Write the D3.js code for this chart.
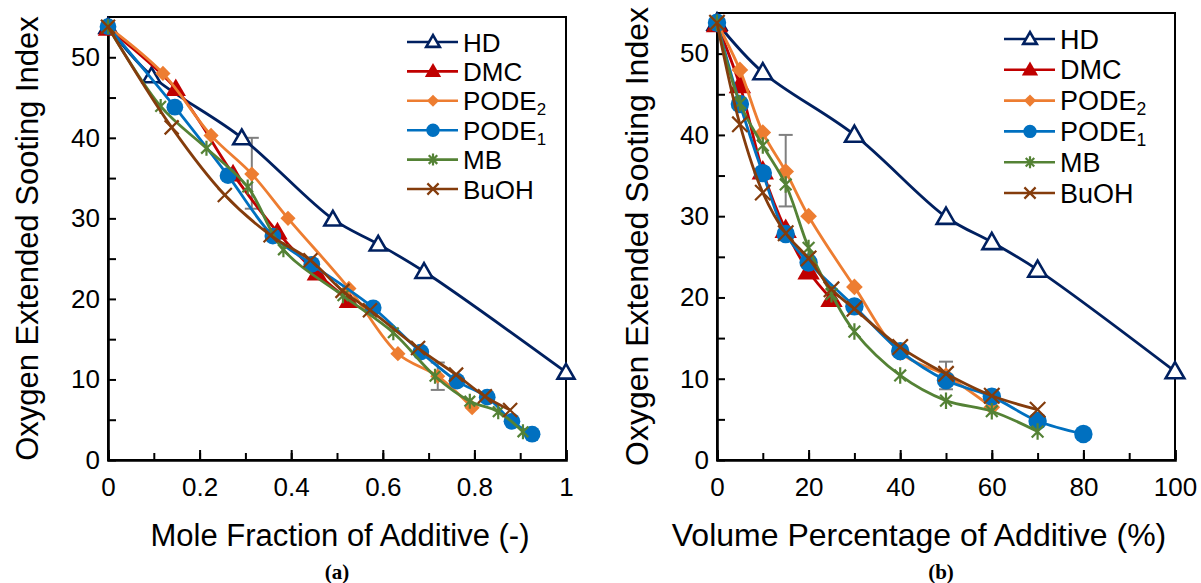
<!DOCTYPE html>
<html><head><meta charset="utf-8">
<script src="https://cdn.jsdelivr.net/npm/d3@7"></script>
<style>
html,body{margin:0;padding:0;background:#fff;}
text{font-family:"Liberation Sans",Arial,sans-serif;fill:#000;}
</style></head>
<body>
<svg id="chart" width="1201" height="583"></svg>
<script>
// ---- data ----
const seriesNames = ["HD","DMC","PODE2","PODE1","MB","BuOH"];
const seriesColors = ["#002060","#C00000","#ED7D31","#0070C0","#548235","#843C0C"];

const hdMoleX = [0,0.095,0.292,0.491,0.59,0.69,1];
const hdVolX  = [0,10,30,50,60,70,100];
const hdY     = [53.8,47.7,40.0,29.9,26.8,23.4,10.9];

const dmcMoleX = [0,0.148,0.273,0.37,0.456,0.526];
const dmcVolX  = [0,5,10,15,20,25];
const dmcY     = [53.6,46.1,35.5,28.3,23.2,19.8];

const pode2MoleX = [0,0.12,0.225,0.314,0.393,0.526,0.633,0.72,0.795];
const pode2VolX  = [0,5,10,15,20,30,40,50,60];
const pode2Y     = [53.8,48.0,40.3,35.5,30.0,21.3,13.2,10.4,6.5];

const pode1MoleX = [0,0.146,0.262,0.36,0.445,0.579,0.683,0.762,0.828,0.882,0.926];
const pode1VolX  = [0,5,10,15,20,30,40,50,60,70,80];
const pode1Y     = [53.8,43.8,35.3,27.8,24.3,18.9,13.4,9.8,7.8,4.8,3.2];

const mbMoleX = [0,0.115,0.215,0.305,0.383,0.513,0.623,0.714,0.79,0.852,0.906];
const mbVolX  = [0,5,10,15,20,25,30,40,50,60,70];
const mbY     = [53.8,43.9,38.7,33.9,26.1,20.4,15.8,10.4,7.3,6.0,3.5];

const buohMoleX = [0,0.139,0.255,0.355,0.442,0.512,0.572,0.677,0.76,0.823,0.878];
const buohVolX  = [0,5,10,15,20,25,30,40,50,60,70];
const buohY     = [53.8,41.3,32.9,27.9,24.8,21.0,18.6,13.9,10.6,7.9,6.2];

const errMoleX = [0.314,0.72];
const errVolX  = [15,50];
const errY     = [35.6,10.4];
const errHalf  = [4.4,1.7];

const moleTicks = [0,0.2,0.4,0.6,0.8,1];
const moleTickLabels = ["0","0.2","0.4","0.6","0.8","1"];
const volTicks = [0,20,40,60,80,100];
const yTicks = [0,10,20,30,40,50];

// ---- build ----
const moleX = [hdMoleX,dmcMoleX,pode2MoleX,pode1MoleX,mbMoleX,buohMoleX];
const volX  = [hdVolX,dmcVolX,pode2VolX,pode1VolX,mbVolX,buohVolX];
const allY  = [hdY,dmcY,pode2Y,pode1Y,mbY,buohY];

const svg = d3.select("#chart");

function markerPath(i, k){
  switch(i){
    case 0: return d3.symbol(d3.symbolTriangle, 125*k*k)();
    case 1: return d3.symbol(d3.symbolTriangle, 180*k*k)();
    case 2: return d3.symbol(d3.symbolSquare, 115*k*k)();
    case 3: return d3.symbol(d3.symbolCircle, 220*k*k)();
    case 4: { const r=7.5*k, d=r*0.71; return `M0,${-r}V${r}M${-d},${-d}L${d},${d}M${-d},${d}L${d},${-d}`; }
    case 5: { const d=7*k; return `M${-d},${-d}L${d},${d}M${-d},${d}L${d},${-d}`; }
  }
}
function styleMarker(sel, i){
  const c = seriesColors[i];
  if(i===0) sel.attr("fill","#fff").attr("stroke",c).attr("stroke-width",2.6);
  else if(i===4||i===5) sel.attr("fill","none").attr("stroke",c).attr("stroke-width",2.2);
  else sel.attr("fill",c).attr("stroke","none");
}

function panel(cfg){
  const g = svg.append("g");
  const x = d3.scaleLinear().domain(cfg.xDomain).range(cfg.xRange);
  const y = d3.scaleLinear().domain([0,55]).range(cfg.yRange);
  const [x0,x1] = cfg.xRange, [y0,y1] = cfg.yRange;

  g.append("rect").attr("x",x0).attr("y",y1).attr("width",x1-x0).attr("height",y0-y1)
   .attr("fill","none").attr("stroke","#000").attr("stroke-width",2);

  const xa = g.append("g").attr("transform",`translate(0,${y0})`)
    .call(d3.axisBottom(x).tickValues(cfg.xMinor).tickSize(-7).tickFormat(""));
  xa.select(".domain").remove();
  xa.selectAll("line").attr("stroke","#000").attr("stroke-width",2);
  const xb = g.append("g").attr("transform",`translate(0,${y0})`)
    .call(d3.axisBottom(x).tickValues(cfg.xTicks).tickSize(-10).tickPadding(18).tickFormat((d,i)=>cfg.xLabels[i]));
  xb.select(".domain").attr("stroke","#000").attr("stroke-width",2.6);
  xb.selectAll("line").attr("stroke","#000").attr("stroke-width",2);
  xb.selectAll("text").attr("font-size",26).attr("font-family","Liberation Sans, Arial, sans-serif").attr("fill","#000");

  const ya = g.append("g").attr("transform",`translate(${x0},0)`)
    .call(d3.axisLeft(y).tickValues(d3.range(0,55,5)).tickSize(-8).tickFormat(""));
  ya.select(".domain").remove();
  ya.selectAll("line").attr("stroke","#000").attr("stroke-width",2);
  const yb = g.append("g").attr("transform",`translate(${x0},0)`)
    .call(d3.axisLeft(y).tickValues(yTicks).tickSize(0).tickPadding(8).tickFormat(d3.format("d")));
  yb.select(".domain").attr("stroke","#000").attr("stroke-width",2.6);
  yb.selectAll("text").attr("font-size",26).attr("font-family","Liberation Sans, Arial, sans-serif").attr("fill","#000");

  g.append("text").attr("x",cfg.xTitleX).attr("y",546).attr("text-anchor","middle")
    .attr("font-size",cfg.titleFont).text(cfg.xTitle);
  g.append("text").attr("transform",`translate(${cfg.yTitleX},${(y0+y1)/2}) rotate(-90)`)
    .attr("text-anchor","middle").attr("font-size",cfg.titleFont).text("Oxygen Extended Sooting Index");
  g.append("text").attr("x",cfg.capX).attr("y",579).attr("text-anchor","middle")
    .attr("font-size",21).attr("font-weight","bold")
    .style("font-family","'Liberation Serif','Times New Roman',serif").text(cfg.caption);

  const eg = g.append("g").attr("stroke","#7F7F7F").attr("stroke-width",2).attr("fill","none");
  cfg.errX.forEach((ex,i)=>{
    const px = x(ex), ya_ = y(errY[i]+errHalf[i]), yb_ = y(errY[i]-errHalf[i]);
    eg.append("line").attr("x1",px).attr("x2",px).attr("y1",ya_).attr("y2",yb_);
    eg.append("line").attr("x1",px-7).attr("x2",px+7).attr("y1",ya_).attr("y2",ya_);
    eg.append("line").attr("x1",px-7).attr("x2",px+7).attr("y1",yb_).attr("y2",yb_);
  });

  const line = d3.line().x(d=>x(d[0])).y(d=>y(d[1])).curve(d3.curveCatmullRom.alpha(0.5));
  seriesNames.forEach((name,i)=>{
    const pts = cfg.xs[i].map((xv,j)=>[xv, allY[i][j]]);
    const sg = g.append("g");
    sg.append("path").attr("d",line(pts)).attr("fill","none")
      .attr("stroke",seriesColors[i]).attr("stroke-width",2.8);
    pts.forEach(p=>{
      const m = sg.append("path").attr("d",markerPath(i,cfg.mk))
        .attr("transform",`translate(${x(p[0])},${y(p[1])})${i===2?" rotate(45)":""}${i<2?" translate(0,1.5)":""}`);
      styleMarker(m,i);
    });
  });

  const lg = g.append("g");
  seriesNames.forEach((name,i)=>{
    const cy = cfg.legY + i*cfg.legStep;
    const lx0 = cfg.legX, lx1 = cfg.legX+51, mx = cfg.legX+26;
    lg.append("line").attr("x1",lx0).attr("x2",lx1).attr("y1",cy).attr("y2",cy)
      .attr("stroke",seriesColors[i]).attr("stroke-width",2.6);
    const m = lg.append("path").attr("d",markerPath(i,0.8))
      .attr("transform",`translate(${mx},${cy})${i===2?" rotate(45)":""}${i<2?" translate(0,1)":""}`);
    styleMarker(m,i);
    const t = lg.append("text").attr("x",lx1+5).attr("y",cy+9.5).attr("font-size",cfg.legFont);
    if(name==="PODE2"||name==="PODE1"){
      t.append("tspan").text("PODE");
      t.append("tspan").attr("font-size",cfg.legFont*0.65).attr("dy",5).text(name.slice(4));
    } else t.text(name);
  });
}

panel({xDomain:[0,1], xRange:[108,566], yRange:[460,17],
  xTicks:moleTicks, xLabels:moleTickLabels, xMinor:d3.range(0,1.0001,0.1),
  xs:moleX, errX:errMoleX, xTitle:"Mole Fraction of Additive (-)", caption:"(a)",
  xTitleX:340, capX:337, titleFont:31,
  yTitleX:38, legX:407, legY:42, legStep:29.4, legFont:26, mk:1});

panel({xDomain:[0,100], xRange:[717,1175], yRange:[460,13],
  xTicks:volTicks, xLabels:volTicks.map(String), xMinor:d3.range(0,101,10),
  xs:volX, errX:errVolX, xTitle:"Volume Percentage of Additive (%)", caption:"(b)",
  xTitleX:919, capX:941, titleFont:32,
  yTitleX:648, legX:1004, legY:39, legStep:30.8, legFont:27, mk:1.1});
</script>
</body></html>
